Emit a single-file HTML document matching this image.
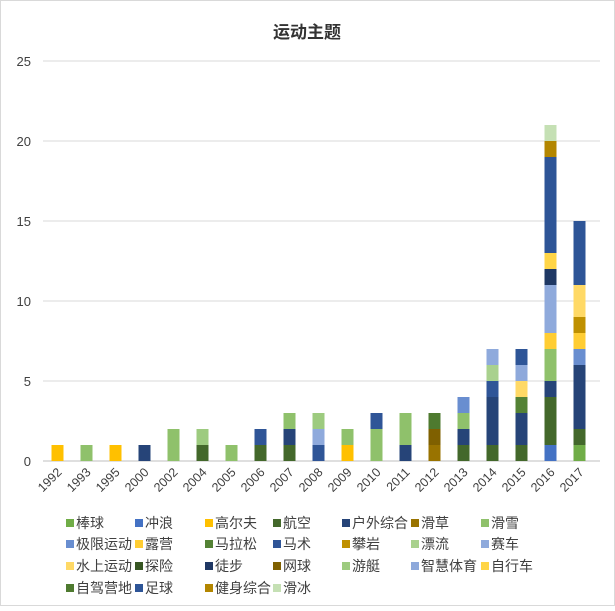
<!DOCTYPE html>
<html><head><meta charset="utf-8"><style>
body{margin:0;background:#fff;font-family:"Liberation Sans","Noto Sans CJK SC",sans-serif}
#wrap{position:relative;width:615px;height:606px}
</style></head><body>
<div id="wrap">
<svg id="chart" width="615" height="606"></svg>
</div>
<script>
const categories=["1992","1993","1995","2000","2002","2004","2005","2006","2007","2008","2009","2010","2011","2012","2013","2014","2015","2016","2017"];
const seriesNames=["棒球","冲浪","高尔夫","航空","户外综合","滑草","滑雪","极限运动","露营","马拉松","马术","攀岩","漂流","赛车","水上运动","探险","徒步","网球","游艇","智慧体育","自行车","自驾营地","足球","健身综合","滑冰"];
const seriesColors=["#70ad47","#4472c4","#ffc000","#43682b","#264478","#997300","#8fc16b","#698ed0","#ffcd33","#548235","#2f5597","#bf9000","#a9d18e","#8faadc","#ffd966","#375623","#1f3864","#7f6000","#9dcb7f","#8ea9db","#ffd547","#4e7a2f","#2e5597","#b38600","#c5e0b4"];
// values[series][category]
const s0 =[0,0,0,0,0,0,0,0,0,0,0,0,0,0,0,0,0,0,1];
const s1 =[0,0,0,0,0,0,0,0,0,0,0,0,0,0,0,0,0,1,0];
const s2 =[1,0,1,0,0,0,0,0,0,0,1,0,0,0,0,0,0,0,0];
const s3 =[0,0,0,0,0,1,0,1,1,0,0,0,0,0,1,1,1,3,1];
const s4 =[0,0,0,1,0,0,0,0,1,0,0,0,1,0,1,3,2,1,4];
const s5 =[0,0,0,0,0,0,0,0,0,0,0,0,0,1,0,0,0,0,0];
const s6 =[0,1,0,0,2,0,1,0,1,0,1,2,2,0,1,0,0,2,0];
const s7 =[0,0,0,0,0,0,0,0,0,0,0,0,0,0,1,0,0,0,1];
const s8 =[0,0,0,0,0,0,0,0,0,0,0,0,0,0,0,0,0,1,1];
const s9 =[0,0,0,0,0,0,0,0,0,0,0,0,0,0,0,0,1,0,0];
const s10=[0,0,0,0,0,0,0,1,0,1,0,1,0,0,0,1,0,0,0];
const s11=[0,0,0,0,0,0,0,0,0,0,0,0,0,0,0,0,0,0,1];
const s12=[0,0,0,0,0,0,0,0,0,0,0,0,0,0,0,1,0,0,0];
const s13=[0,0,0,0,0,0,0,0,0,1,0,0,0,0,0,1,0,3,0];
const s14=[0,0,0,0,0,0,0,0,0,0,0,0,0,0,0,0,1,0,2];
const s15=[0,0,0,0,0,0,0,0,0,0,0,0,0,0,0,0,0,0,0];
const s16=[0,0,0,0,0,0,0,0,0,0,0,0,0,0,0,0,0,1,0];
const s17=[0,0,0,0,0,0,0,0,0,0,0,0,0,1,0,0,0,0,0];
const s18=[0,0,0,0,0,1,0,0,0,1,0,0,0,0,0,0,0,0,0];
const s19=[0,0,0,0,0,0,0,0,0,0,0,0,0,0,0,0,1,0,0];
const s20=[0,0,0,0,0,0,0,0,0,0,0,0,0,0,0,0,0,1,0];
const s21=[0,0,0,0,0,0,0,0,0,0,0,0,0,1,0,0,0,0,0];
const s22=[0,0,0,0,0,0,0,0,0,0,0,0,0,0,0,0,1,6,4];
const s23=[0,0,0,0,0,0,0,0,0,0,0,0,0,0,0,0,0,1,0];
const s24=[0,0,0,0,0,0,0,0,0,0,0,0,0,0,0,0,0,1,0];
const seriesValues=[s0,s1,s2,s3,s4,s5,s6,s7,s8,s9,s10,s11,s12,s13,s14,s15,s16,s17,s18,s19,s20,s21,s22,s23,s24];
const yTicks=[0,5,10,15,20,25];

const NS="http://www.w3.org/2000/svg";
const svg=document.getElementById('chart');
function mk(t,a,p){const e=document.createElementNS(NS,t);for(const k in a)e.setAttribute(k,a[k]);(p||svg).appendChild(e);return e;}
const L=43,R=594,T=61,B=461,yMax=25;
const y=v=>B-(v/yMax)*(B-T);
const step=(R-L)/categories.length;
const x=i=>L+step*(i+0.5);
const bw=12;

let e=mk('rect',{x:0.5,y:0.5,width:614,height:605,fill:'#fff',stroke:'#d9d9d9'});


e=mk('text',{x:307,y:38,'text-anchor':'middle','font-size':17,'font-weight':'bold',fill:'#333'});
e.textContent='运动主题';



yTicks.forEach(t=>{
  const g=mk('line',{x1:L,x2:600,y1:y(t),y2:y(t),stroke:t===0?'#bfbfbf':'#d9d9d9','stroke-width':1});
  
  
  const l=mk('text',{x:31,y:y(t)+5,'text-anchor':'end','font-size':13,fill:'#404040'});
  l.textContent=t;
  
  
});

categories.forEach((c,i)=>{
  let base=0;
  seriesValues.forEach((vals,si)=>{
    const v=vals[i]; if(!v)return;
    const r=mk('rect',{x:x(i)-bw/2,y:y(base+v),width:bw,height:y(base)-y(base+v),fill:seriesColors[si]});
    
    
    base+=v;
  });
  const l=mk('text',{x:x(i)+5,y:B+12,'text-anchor':'end','font-size':12.5,fill:'#404040',transform:`rotate(-45 ${x(i)+5} ${B+12})`});
  l.textContent=c;
  
  
});

const cols=[70,139,209,277,346,415,485];
const rows=[523,544,566,588];
seriesNames.forEach((n,i)=>{
  const cx=cols[i%7], cy=rows[Math.floor(i/7)];
  const g=mk('g',{});
  
  
  mk('rect',{x:cx-4,y:cy-4,width:8,height:8,fill:seriesColors[i]},g);
  const t=mk('text',{x:cx+6,y:cy+5,'font-size':14,fill:'#404040'},g);
  t.textContent=n;
});
</script>
</body></html>
